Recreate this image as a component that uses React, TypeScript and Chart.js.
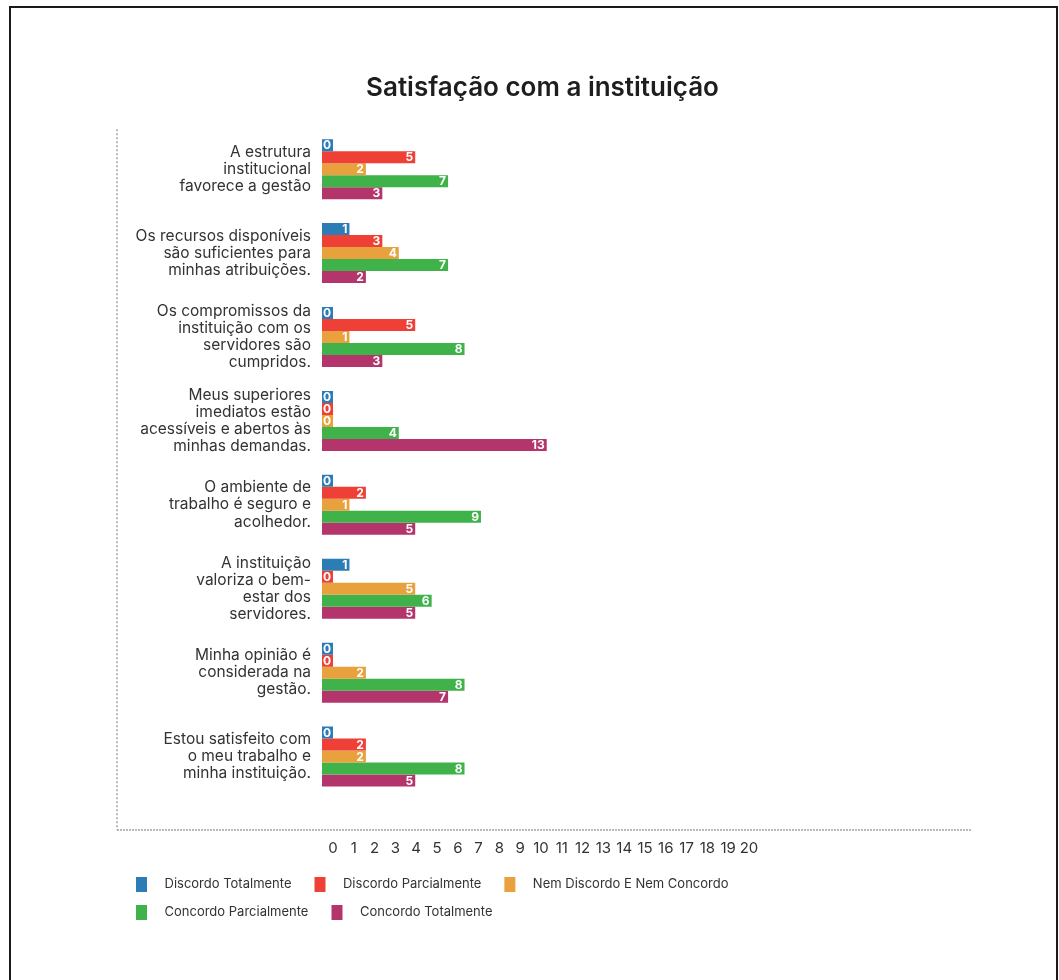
import React, { useEffect, useRef } from 'react';
import { Chart, registerables } from 'chart.js';

Chart.register(...registerables);

const TITLE = 'Satisfação com a instituição';

const categories: string[][] = [
  ['A estrutura', 'institucional', 'favorece a gestão'],
  ['Os recursos disponíveis', 'são suficientes para', 'minhas atribuições.'],
  ['Os compromissos da', 'instituição com os', 'servidores são', 'cumpridos.'],
  ['Meus superiores', 'imediatos estão', 'acessíveis e abertos às', 'minhas demandas.'],
  ['O ambiente de', 'trabalho é seguro e', 'acolhedor.'],
  ['A instituição', 'valoriza o bem-', 'estar dos', 'servidores.'],
  ['Minha opinião é', 'considerada na', 'gestão.'],
  ['Estou satisfeito com', 'o meu trabalho e', 'minha instituição.'],
];

const seriesNames = [
  'Discordo Totalmente',
  'Discordo Parcialmente',
  'Nem Discordo E Nem Concordo',
  'Concordo Parcialmente',
  'Concordo Totalmente',
];

const discordoTotalmente = [0, 1, 0, 0, 0, 1, 0, 0];
const discordoParcialmente = [5, 3, 5, 0, 2, 0, 0, 2];
const nemDiscordoNemConcordo = [2, 4, 1, 0, 1, 5, 2, 2];
const concordoParcialmente = [7, 7, 8, 4, 9, 6, 8, 8];
const concordoTotalmente = [3, 2, 3, 13, 5, 5, 7, 5];

const xTickLabels = [0, 1, 2, 3, 4, 5, 6, 7, 8, 9, 10, 11, 12, 13, 14, 15, 16, 17, 18, 19, 20];

const seriesColors = ['#2c7cb6', '#ee4036', '#e8a13c', '#3fb249', '#b4346c'];

const FONT = 'Inter, "Open Sans", sans-serif';

const valueLabels = {
  id: 'valueLabels',
  afterDatasetsDraw(chart: any) {
    const ctx = chart.ctx;
    ctx.save();
    ctx.font = `bold 12px ${FONT}`;
    ctx.fillStyle = '#ffffff';
    ctx.textAlign = 'right';
    ctx.textBaseline = 'middle';
    chart.data.datasets.forEach((ds: any, di: number) => {
      const meta = chart.getDatasetMeta(di);
      meta.data.forEach((el: any, i: number) => {
        ctx.fillText(String(ds.data[i]), el.x - 2, el.y + 0.5);
      });
    });
    ctx.restore();
  },
};

const frameLines = {
  id: 'frameLines',
  beforeDatasetsDraw(chart: any) {
    const { ctx, chartArea, scales } = chart;
    const x0 = scales.y.left + 4;
    const yb = scales.x2.top;
    ctx.save();
    ctx.strokeStyle = '#a3a3a3';
    ctx.lineWidth = 1.5;
    ctx.setLineDash([2, 2]);
    ctx.beginPath();
    ctx.moveTo(x0, chartArea.top + 2);
    ctx.lineTo(x0, yb);
    ctx.stroke();
    ctx.setLineDash([2, 1]);
    ctx.beginPath();
    ctx.moveTo(x0, yb);
    ctx.lineTo(chartArea.right, yb);
    ctx.stroke();
    ctx.restore();
  },
};

const LEGEND_WRAP = 720;
const legendRows = {
  id: 'legendRows',
  afterInit(chart: any) {
    const lg = chart.legend;
    if (lg && !lg.__patched) {
      const orig = lg.update.bind(lg);
      lg.update = (mw: number, mh: number, m: any) => orig(Math.min(mw, LEGEND_WRAP), mh, m);
      lg.__patched = true;
    }
  },
  afterLayout(chart: any) {
    const lg = chart.legend;
    if (lg) {
      lg.right = lg.left + LEGEND_WRAP;
      lg.width = LEGEND_WRAP;
    }
  },
};

export default function App() {
  const ref = useRef<HTMLCanvasElement | null>(null);

  useEffect(() => {
    const swatches = seriesColors.map((c) => {
      const cv = document.createElement('canvas');
      cv.width = 30;
      cv.height = 15;
      const g = cv.getContext('2d')!;
      g.fillStyle = c;
      g.fillRect(8, 0, 11, 15);
      return cv;
    });

    const values = [
      discordoTotalmente,
      discordoParcialmente,
      nemDiscordoNemConcordo,
      concordoParcialmente,
      concordoTotalmente,
    ];

    const chart = new Chart(ref.current!, {
      type: 'bar',
      data: {
        labels: categories,
        datasets: values.map((d, i) => ({
          label: seriesNames[i],
          data: d,
          backgroundColor: seriesColors[i],
          borderWidth: 0,
          barPercentage: 1,
          categoryPercentage: 0.715,
          base: -0.67,
          xAxisID: 'x',
        })) as any,
      },
      options: {
        indexAxis: 'y',
        animation: false,
        responsive: true,
        maintainAspectRatio: false,
        events: [],
        layout: { padding: { left: 102, right: 84, top: 0, bottom: 55 } },
        scales: {
          y: {
            type: 'category',
            position: 'left',
            grid: { display: false, drawTicks: false },
            border: { display: false },
            ticks: {
              color: '#333',
              padding: 11,
              autoSkip: false,
              font: { family: FONT, size: 15.5, lineHeight: 1.1 },
            },
            afterFit: (s: any) => {
              s.width = 209;
            },
          },
          x: {
            type: 'linear',
            position: 'bottom',
            min: -0.67,
            max: 38.87,
            grid: { display: false, drawTicks: false },
            border: { display: false },
            ticks: { display: false },
            afterFit: (s: any) => {
              s.height = 31.5;
            },
          },
          x2: {
            type: 'linear',
            position: 'bottom',
            min: -0.529,
            max: 30.72,
            grid: { display: false, drawTicks: false },
            border: { display: false },
            ticks: {
              autoSkip: false,
              maxRotation: 0,
              padding: 9,
              color: '#333',
              font: { family: FONT, size: 15 },
              callback: (v: any) => String(v),
            },
            afterBuildTicks: (s: any) => {
              s.ticks = xTickLabels.map((v) => ({ value: v }));
            },
            afterFit: (s: any) => {
              s.height = 33;
            },
          },
        } as any,
        plugins: {
          title: {
            display: true,
            text: TITLE,
            color: '#1e1e1e',
            font: { family: FONT, size: 26, weight: '600' as any },
            padding: { top: 65, bottom: 23 },
          },
          legend: {
            display: true,
            position: 'bottom',
            align: 'start',
            labels: {
              usePointStyle: true,
              pointStyleWidth: 30,
              padding: 15,
              color: '#333',
              font: { family: FONT, size: 13 },
              generateLabels: (ch: any) =>
                ch.data.datasets.map((ds: any, i: number) => ({
                  text: ds.label,
                  fillStyle: seriesColors[i],
                  strokeStyle: seriesColors[i],
                  lineWidth: 0,
                  pointStyle: swatches[i],
                  hidden: false,
                  datasetIndex: i,
                  fontColor: '#333',
                })),
            },
          },
          tooltip: { enabled: false },
        },
      },
      plugins: [valueLabels, frameLines, legendRows],
    });

    return () => chart.destroy();
  }, []);

  return (
    <div
      style={{
        position: 'fixed',
        left: 9,
        top: 6,
        width: 1049,
        height: 980,
        border: '2px solid #1a1a1a',
        boxSizing: 'border-box',
        background: '#fff',
      }}
    >
      <div style={{ position: 'relative', width: 1045, height: 976 }}>
        <canvas ref={ref} />
      </div>
    </div>
  );
}
